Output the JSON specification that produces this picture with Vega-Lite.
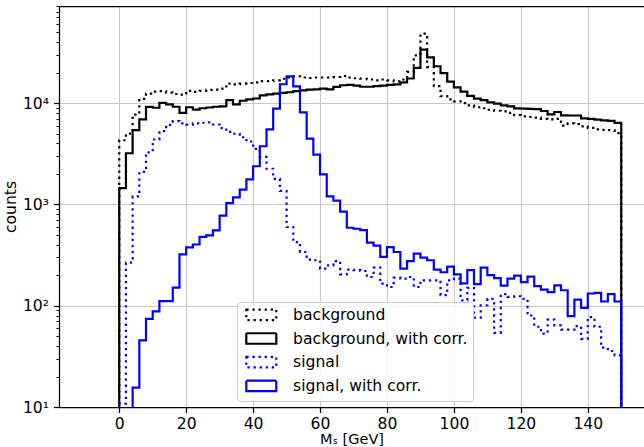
{
  "$schema": "https://vega.github.io/schema/vega-lite/v6.json",
  "autosize": {"type": "none"},
  "width": 585,
  "height": 401,
  "padding": {"left": 59, "top": 6, "right": 0, "bottom": 40},
  "background": "white",
  "config": {
    "view": {"stroke": null},
    "font": "DejaVu Sans",
    "axis": {
      "labelFont": "DejaVu Sans",
      "labelFontSize": 15.6,
      "labelColor": "black",
      "titleFont": "DejaVu Sans",
      "titleFontSize": 15.6,
      "titleFontWeight": "normal",
      "titleColor": "black",
      "domainColor": "black",
      "domainWidth": 1.25,
      "tickColor": "black",
      "tickWidth": 1.25,
      "tickSize": 5.5,
      "labelPadding": 5,
      "gridColor": "#c8c8c8",
      "gridWidth": 1.1
    },
    "legend": {
      "labelFont": "DejaVu Sans",
      "labelFontSize": 15.6,
      "labelColor": "black"
    }
  },
  "data": {
    "values": [
      {"m": 0, "bg": 1, "bgc": 1, "sg": 1, "sgc": 1},
      {"m": 0, "bg": 4300, "bgc": 1450, "sg": 10.8, "sgc": 1},
      {"m": 2, "bg": 5000, "bgc": 3200, "sg": 266, "sgc": 1},
      {"m": 4, "bg": 7700, "bgc": 5400, "sg": 1200, "sgc": 15.5},
      {"m": 6, "bg": 11000, "bgc": 6900, "sg": 2090, "sgc": 45.5},
      {"m": 8, "bg": 12400, "bgc": 9160, "sg": 3270, "sgc": 74},
      {"m": 10, "bg": 13000, "bgc": 9000, "sg": 4370, "sgc": 88},
      {"m": 12, "bg": 13100, "bgc": 10050, "sg": 5300, "sgc": 111},
      {"m": 14, "bg": 12700, "bgc": 9720, "sg": 6100, "sgc": 111},
      {"m": 16, "bg": 12300, "bgc": 9200, "sg": 6640, "sgc": 151},
      {"m": 18, "bg": 12100, "bgc": 8000, "sg": 6300, "sgc": 321},
      {"m": 20, "bg": 13200, "bgc": 9100, "sg": 6120, "sgc": 377},
      {"m": 22, "bg": 12900, "bgc": 8630, "sg": 6300, "sgc": 402},
      {"m": 24, "bg": 13200, "bgc": 8900, "sg": 6400, "sgc": 477},
      {"m": 26, "bg": 13500, "bgc": 9050, "sg": 6450, "sgc": 494},
      {"m": 28, "bg": 13600, "bgc": 9200, "sg": 6150, "sgc": 555},
      {"m": 30, "bg": 13900, "bgc": 9290, "sg": 5650, "sgc": 775},
      {"m": 32, "bg": 15600, "bgc": 10700, "sg": 5190, "sgc": 1030},
      {"m": 34, "bg": 15300, "bgc": 9720, "sg": 4980, "sgc": 1175},
      {"m": 36, "bg": 15600, "bgc": 10550, "sg": 4600, "sgc": 1400},
      {"m": 38, "bg": 15800, "bgc": 10900, "sg": 4180, "sgc": 1770},
      {"m": 40, "bg": 16000, "bgc": 11100, "sg": 3530, "sgc": 2380},
      {"m": 42, "bg": 16500, "bgc": 11900, "sg": 2940, "sgc": 3750},
      {"m": 44, "bg": 16500, "bgc": 12200, "sg": 2250, "sgc": 5510},
      {"m": 46, "bg": 16800, "bgc": 12400, "sg": 1790, "sgc": 8830},
      {"m": 48, "bg": 17400, "bgc": 12600, "sg": 1360, "sgc": 15350},
      {"m": 50, "bg": 17900, "bgc": 12800, "sg": 598, "sgc": 18400},
      {"m": 52, "bg": 18400, "bgc": 13100, "sg": 425, "sgc": 14600},
      {"m": 54, "bg": 17900, "bgc": 13370, "sg": 339, "sgc": 8100},
      {"m": 56, "bg": 17700, "bgc": 13590, "sg": 285, "sgc": 4460},
      {"m": 58, "bg": 17900, "bgc": 13660, "sg": 281, "sgc": 3100},
      {"m": 60, "bg": 17900, "bgc": 13900, "sg": 232, "sgc": 1983},
      {"m": 62, "bg": 17900, "bgc": 13660, "sg": 250, "sgc": 1202},
      {"m": 64, "bg": 18100, "bgc": 14430, "sg": 276, "sgc": 1090},
      {"m": 66, "bg": 18500, "bgc": 15000, "sg": 204, "sgc": 848},
      {"m": 68, "bg": 17900, "bgc": 15100, "sg": 227, "sgc": 588},
      {"m": 70, "bg": 17600, "bgc": 14900, "sg": 224, "sgc": 575},
      {"m": 72, "bg": 17400, "bgc": 14500, "sg": 220, "sgc": 558},
      {"m": 74, "bg": 17100, "bgc": 14500, "sg": 192, "sgc": 420},
      {"m": 76, "bg": 16800, "bgc": 14700, "sg": 238, "sgc": 391},
      {"m": 78, "bg": 17100, "bgc": 14900, "sg": 165, "sgc": 303},
      {"m": 80, "bg": 16800, "bgc": 15100, "sg": 153, "sgc": 379},
      {"m": 82, "bg": 16400, "bgc": 15300, "sg": 189, "sgc": 339},
      {"m": 84, "bg": 17100, "bgc": 16000, "sg": 185, "sgc": 232},
      {"m": 86, "bg": 20300, "bgc": 17500, "sg": 192, "sgc": 276},
      {"m": 88, "bg": 29600, "bgc": 22300, "sg": 153, "sgc": 327},
      {"m": 90, "bg": 48500, "bgc": 33700, "sg": 178, "sgc": 298},
      {"m": 92, "bg": 22700, "bgc": 28300, "sg": 178, "sgc": 281},
      {"m": 94, "bg": 14700, "bgc": 23100, "sg": 178, "sgc": 227},
      {"m": 96, "bg": 11700, "bgc": 19800, "sg": 127, "sgc": 214},
      {"m": 98, "bg": 10900, "bgc": 16300, "sg": 178, "sgc": 243},
      {"m": 100, "bg": 10400, "bgc": 14300, "sg": 185, "sgc": 204},
      {"m": 102, "bg": 10000, "bgc": 13000, "sg": 113, "sgc": 166},
      {"m": 104, "bg": 9500, "bgc": 11800, "sg": 150, "sgc": 224},
      {"m": 106, "bg": 9100, "bgc": 11070, "sg": 76, "sgc": 163},
      {"m": 108, "bg": 8900, "bgc": 10700, "sg": 101, "sgc": 238},
      {"m": 110, "bg": 8600, "bgc": 10180, "sg": 117, "sgc": 200},
      {"m": 112, "bg": 8400, "bgc": 9890, "sg": 54, "sgc": 187},
      {"m": 114, "bg": 8300, "bgc": 9510, "sg": 130, "sgc": 158},
      {"m": 116, "bg": 8000, "bgc": 9290, "sg": 122, "sgc": 185},
      {"m": 118, "bg": 7600, "bgc": 8880, "sg": 124, "sgc": 198},
      {"m": 120, "bg": 7400, "bgc": 8820, "sg": 117, "sgc": 171},
      {"m": 122, "bg": 7300, "bgc": 8770, "sg": 80, "sgc": 194},
      {"m": 124, "bg": 7200, "bgc": 8720, "sg": 62, "sgc": 156},
      {"m": 126, "bg": 7000, "bgc": 8360, "sg": 53, "sgc": 144},
      {"m": 128, "bg": 6900, "bgc": 7750, "sg": 73, "sgc": 136},
      {"m": 130, "bg": 7000, "bgc": 8170, "sg": 64, "sgc": 159},
      {"m": 132, "bg": 6000, "bgc": 7580, "sg": 58, "sgc": 142},
      {"m": 134, "bg": 6300, "bgc": 7540, "sg": 58, "sgc": 79},
      {"m": 136, "bg": 6200, "bgc": 7540, "sg": 63, "sgc": 115},
      {"m": 138, "bg": 5900, "bgc": 7080, "sg": 47, "sgc": 95},
      {"m": 140, "bg": 5700, "bgc": 7000, "sg": 77, "sgc": 132},
      {"m": 142, "bg": 5500, "bgc": 6870, "sg": 62, "sgc": 134},
      {"m": 144, "bg": 5450, "bgc": 6760, "sg": 38.5, "sgc": 110},
      {"m": 146, "bg": 5400, "bgc": 6690, "sg": 35.7, "sgc": 130},
      {"m": 148, "bg": 5050, "bgc": 6370, "sg": 32.4, "sgc": 110},
      {"m": 150, "bg": 5050, "bgc": 6370, "sg": 32.4, "sgc": 110},
      {"m": 150, "bg": 1, "bgc": 1, "sg": 1, "sgc": 1}
    ]
  },
  "transform": [
    {"fold": ["bg", "bgc", "sg", "sgc"], "as": ["s", "n"]}
  ],
  "resolve": {"axis": {"x": "independent"}},
  "layer": [
    {
      "mark": {
        "type": "line",
        "interpolate": "step-after",
        "clip": true,
        "strokeWidth": 2.2,
        "strokeCap": "butt",
        "strokeJoin": "miter"
      },
      "encoding": {
        "x": {
          "field": "m",
          "type": "quantitative",
          "scale": {"domain": [-18, 156.8], "nice": false, "zero": false},
          "axis": {
            "values": [0, 20, 40, 60, 80, 100, 120, 140],
            "format": "d",
            "grid": true,
            "labelPadding": 3.5,
            "title": "Mₛ [GeV]",
            "titleFontSize": 14.5,
            "titleBaseline": "top",
            "titleY": 25.5
          }
        },
        "y": {
          "field": "n",
          "type": "quantitative",
          "scale": {"type": "log", "domain": [10, 90900], "nice": false},
          "axis": {
            "values": [10, 20, 30, 40, 50, 60, 70, 80, 90, 100, 200, 300, 400, 500, 600, 700, 800, 900, 1000, 2000, 3000, 4000, 5000, 6000, 7000, 8000, 9000, 10000, 20000, 30000, 40000, 50000, 60000, 70000, 80000, 90000],
            "labelExpr": "datum.value == 10 ? '10¹' : datum.value == 100 ? '10²' : datum.value == 1000 ? '10³' : datum.value == 10000 ? '10⁴' : ''",
            "grid": true,
            "gridOpacity": {"condition": {"test": "indexof([10, 100, 1000, 10000], datum.value) >= 0", "value": 1}, "value": 0},
            "tickSize": {"condition": {"test": "indexof([10, 100, 1000, 10000], datum.value) >= 0", "value": 5.5}, "value": 3.1},
            "tickWidth": {"condition": {"test": "indexof([10, 100, 1000, 10000], datum.value) >= 0", "value": 1.25}, "value": 0.9},
            "title": "counts",
            "titlePadding": 4
          }
        },
        "color": {
          "field": "s",
          "type": "nominal",
          "scale": {"domain": ["bg", "bgc", "sg", "sgc"], "range": ["#000000", "#000000", "#0000ff", "#0000ff"]},
          "legend": {
            "title": null,
            "orient": "none",
            "legendX": 178,
            "legendY": 296,
            "direction": "vertical",
            "symbolType": "M-3,-1.05L3,-1.05L3,1.05L-3,1.05Z",
            "symbolSize": 100,
            "symbolStrokeWidth": 2.2,
            "symbolFillColor": "transparent",
            "symbolOffset": 11.5,
            "labelOffset": 24,
            "labelLimit": 400,
            "rowPadding": 3.7,
            "padding": 5,
            "fillColor": "rgba(255,255,255,0.8)",
            "strokeColor": "#cccccc",
            "cornerRadius": 3,
            "labelExpr": "datum.value == 'bg' ? 'background' : datum.value == 'bgc' ? 'background, with corr.' : datum.value == 'sg' ? 'signal' : 'signal, with corr.'"
          }
        },
        "strokeDash": {
          "field": "s",
          "type": "nominal",
          "scale": {"domain": ["bg", "bgc", "sg", "sgc"], "range": [[2.3, 3.8], [1, 0], [2.3, 3.8], [1, 0]]}
        }
      }
    },
    {
      "mark": {"type": "point", "opacity": 0},
      "encoding": {
        "x": {
          "field": "m",
          "type": "quantitative",
          "axis": {"orient": "top", "labels": false, "ticks": false, "grid": false, "title": null, "domain": true}
        }
      }
    }
  ]
}
